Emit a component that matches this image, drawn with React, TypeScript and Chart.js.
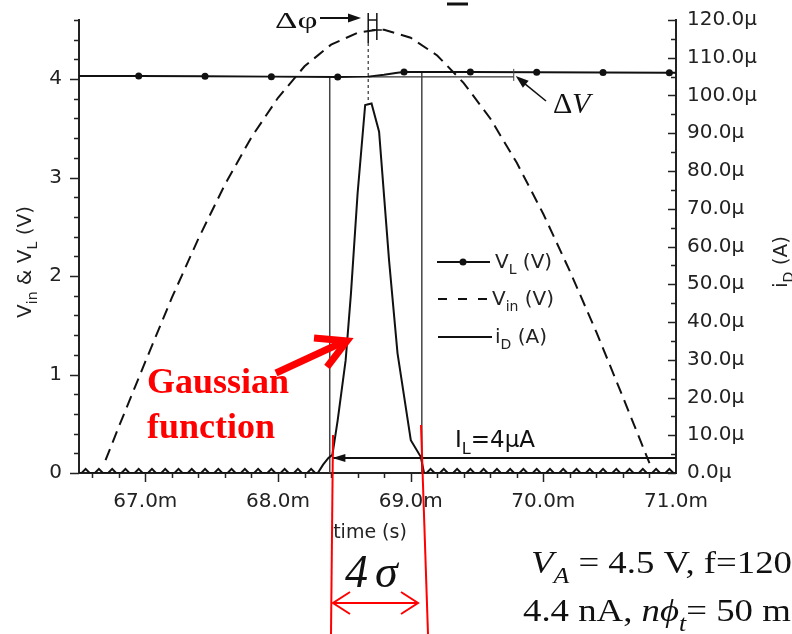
import React, { useEffect, useRef } from 'react';
import { Chart, registerables } from 'chart.js';

Chart.register(...registerables);

// ---------------- data ----------------
const X_MIN = 66.5; // ms
const X_MAX = 71.0;
const X_TICKS = [67, 68, 69, 70, 71];
const Y_TICKS = [0, 1, 2, 3, 4];
const Y_MAX = 4.6;
const Y1_TICKS = [0, 10, 20, 30, 40, 50, 60, 70, 80, 90, 100, 110, 120];
const Y1_MAX = 120;

// V_in (V) dashed curve
const VIN_T = [66.7, 66.8, 67.0, 67.2, 67.4, 67.6, 67.8, 68.0, 68.2, 68.4, 68.6, 68.745, 68.8, 69.0, 69.2, 69.4, 69.6, 69.8, 70.0, 70.2, 70.4, 70.6, 70.8];
const VIN_V = [0.13, 0.47, 1.13, 1.78, 2.38, 2.93, 3.41, 3.81, 4.13, 4.35, 4.47, 4.5, 4.5, 4.42, 4.24, 3.96, 3.6, 3.15, 2.63, 2.05, 1.43, 0.77, 0.1];

// V_L (V) line with dot markers
const VL_T = [66.5, 66.95, 67.45, 67.95, 68.45, 68.68, 68.8, 68.9, 68.95, 69.2, 69.45, 69.95, 70.45, 70.95, 71.0];
const VL_V = [4.032, 4.031, 4.028, 4.025, 4.022, 4.025, 4.045, 4.065, 4.072, 4.073, 4.072, 4.07, 4.067, 4.064, 4.064];
const VL_MARKER_T = [66.95, 67.45, 67.95, 68.45, 68.95, 69.45, 69.95, 70.45, 70.95];

// i_D (µA): the Gaussian-like pulse
const ID_PULSE_T = [68.3, 68.34, 68.38, 68.41, 68.45, 68.51, 68.55, 68.6, 68.657, 68.705, 68.762, 68.837, 68.901, 69.001, 69.076, 69.101];
const ID_PULSE_V = [0, 2.2, 4.0, 4.8, 14.0, 29.9, 47.6, 74.1, 97.5, 97.9, 90.4, 56.4, 31.7, 8.7, 4.3, 0];
// small ripple bumps along the baseline of i_D
const RIPPLE_T = [
  66.55, 66.65, 66.75, 66.85, 66.95, 67.05, 67.15, 67.25, 67.35, 67.45, 67.55, 67.65, 67.75, 67.85, 67.95, 68.05, 68.15, 68.25,
  69.15, 69.25, 69.35, 69.45, 69.55, 69.65, 69.75, 69.85, 69.95, 70.05, 70.15, 70.25, 70.35, 70.45, 70.55, 70.65, 70.75, 70.85, 70.95,
];
const RIPPLE_PEAK = 1.1; // µA
const RIPPLE_HALF_WIDTH = 0.03; // ms

// annotations
const IL_VALUE = 4; // µA
const IL_T = [68.41, 71.0];
const WINDOW_T = [68.39, 69.084];
const WINDOW_TOP_V = [4.022, 4.072];
const ID_PEAK_T = 68.68;
const ID_PEAK_V = 97.9;
const VIN_PEAK_T = 68.745;
const DV_REF_T = [68.68, 69.777];
const DV_REF_V = 4.022;

// ---------------- helpers ----------------
type Seg = [string, string?];

function rich(
  ctx: CanvasRenderingContext2D,
  segs: Seg[],
  x: number,
  y: number,
  size: number,
  family: string,
  color: string,
  align: 'left' | 'center' = 'left',
  sx = 1,
) {
  const subSize = size * 0.7;
  const subDy = size * 0.32;
  const fontFor = (k: string) =>
    `${k.includes('i') ? 'italic ' : ''}${k.includes('s') ? subSize : size}px ${family}`;
  const widths: number[] = [];
  let total = 0;
  segs.forEach(([t, k = 'n']) => {
    ctx.font = fontFor(k);
    const w = ctx.measureText(t).width;
    widths.push(w);
    total += w;
  });
  ctx.save();
  ctx.translate(x, y);
  ctx.scale(sx, 1);
  let cx = align === 'center' ? -total / 2 : 0;
  ctx.fillStyle = color;
  ctx.textAlign = 'left';
  ctx.textBaseline = 'alphabetic';
  segs.forEach(([t, k = 'n'], i) => {
    ctx.font = fontFor(k);
    ctx.fillText(t, cx, k.includes('s') ? subDy : 0);
    cx += widths[i];
  });
  ctx.restore();
}

function text(
  ctx: CanvasRenderingContext2D,
  s: string,
  x: number,
  y: number,
  font: string,
  color: string,
  sx = 1,
) {
  ctx.save();
  ctx.font = font;
  ctx.fillStyle = color;
  ctx.textAlign = 'left';
  ctx.textBaseline = 'alphabetic';
  ctx.translate(x, y);
  ctx.scale(sx, 1);
  ctx.fillText(s, 0, 0);
  ctx.restore();
}

function line(ctx: CanvasRenderingContext2D, pts: number[][], color: string, w: number, dash: number[] = []) {
  ctx.save();
  ctx.strokeStyle = color;
  ctx.lineWidth = w;
  ctx.setLineDash(dash);
  ctx.beginPath();
  pts.forEach(([px, py], i) => (i === 0 ? ctx.moveTo(px, py) : ctx.lineTo(px, py)));
  ctx.stroke();
  ctx.restore();
}

function tri(ctx: CanvasRenderingContext2D, pts: number[][], color: string) {
  ctx.save();
  ctx.fillStyle = color;
  ctx.beginPath();
  pts.forEach(([px, py], i) => (i === 0 ? ctx.moveTo(px, py) : ctx.lineTo(px, py)));
  ctx.closePath();
  ctx.fill();
  ctx.restore();
}

const SANS = '"DejaVu Sans", sans-serif';
const SERIF = '"Liberation Serif", "Times New Roman", serif';
const INK = '#111';
const AXIS = '#222';
const RED = '#ff0000';

const annotPlugin = {
  id: 'annot',
  afterDraw(chart: any) {
    const { ctx, scales } = chart;
    const x = scales.x;
    const y = scales.y;
    const y1 = scales.y1;
    const area = chart.chartArea;
    ctx.save();

    // ---- tick marks (major + minor) ----
    ctx.strokeStyle = AXIS;
    ctx.lineWidth = 1.5;
    ctx.beginPath();
    for (let k = 0; k <= 21; k++) {
      const v = 66.6 + 0.2 * k;
      const major = Math.abs(v - Math.round(v)) < 1e-6;
      const px = Math.round(x.getPixelForValue(v)) + 0.5;
      ctx.moveTo(px, area.bottom);
      ctx.lineTo(px, area.bottom + (major ? 9 : 5));
    }
    for (let k = 0; k <= 23; k++) {
      const v = 0.2 * k;
      const major = k % 5 === 0;
      const py = Math.round(y.getPixelForValue(v)) + 0.5;
      ctx.moveTo(area.left, py);
      ctx.lineTo(area.left - (major ? 9 : 5), py);
    }
    for (let k = 0; k <= 24; k++) {
      const v = 5 * k;
      const major = k % 2 === 0;
      const py = Math.round(y1.getPixelForValue(v)) + 0.5;
      ctx.moveTo(area.right, py);
      ctx.lineTo(area.right - (major ? 8 : 5), py);
    }
    ctx.stroke();

    // ---- axis titles ----
    ctx.save();
    ctx.translate(31, 262);
    ctx.rotate(-Math.PI / 2);
    rich(ctx, [['V'], ['in', 's'], [' & V'], ['L', 's'], [' (V)']], 0, 0, 20, SANS, AXIS, 'center');
    ctx.restore();
    ctx.save();
    ctx.translate(787, 262);
    ctx.rotate(-Math.PI / 2);
    rich(ctx, [['i'], ['D', 's'], [' (A)']], 0, 0, 20, SANS, AXIS, 'center');
    ctx.restore();
    rich(ctx, [['time (s)']], 370, 538, 19, SANS, AXIS, 'center');

    // ---- legend ----
    line(ctx, [[437, 262], [490, 262]], INK, 2);
    ctx.fillStyle = INK;
    ctx.beginPath();
    ctx.arc(463, 262, 3.5, 0, Math.PI * 2);
    ctx.fill();
    rich(ctx, [['V'], ['L', 's'], [' (V)']], 495, 268, 20, SANS, AXIS);
    line(ctx, [[438, 299], [489, 299]], INK, 2, [9, 11]);
    rich(ctx, [['V'], ['in', 's'], [' (V)']], 492, 305, 20, SANS, AXIS);
    line(ctx, [[438, 337], [492, 337]], INK, 2);
    rich(ctx, [['i'], ['D', 's'], [' (A)']], 495, 343, 20, SANS, AXIS);

    // ---- I_L arrow and label ----
    const ilY = y1.getPixelForValue(IL_VALUE);
    const ilX = x.getPixelForValue(IL_T[0]);
    tri(ctx, [[ilX, ilY], [ilX + 13, ilY - 4], [ilX + 13, ilY + 4]], INK);
    rich(ctx, [['I'], ['L', 's'], ['=4μA']], 455, 447, 23, SANS, INK);

    // ---- Δφ marker ----
    const xp = x.getPixelForValue(ID_PEAK_T);
    const xv = x.getPixelForValue(VIN_PEAK_T);
    line(ctx, [[xp, 13], [xp, 43]], INK, 1.5);
    line(ctx, [[xp, 43], [xp, y1.getPixelForValue(ID_PEAK_V)]], '#333', 1.2, [3, 3]);
    line(ctx, [[xv, 13], [xv, 40]], INK, 1.5);
    line(ctx, [[xp, 20], [xv, 20]], INK, 1.5);
    line(ctx, [[xv - 5, 30], [xv + 5, 30]], INK, 1.5);
    line(ctx, [[320, 18], [350, 18]], INK, 2);
    tri(ctx, [[361, 18], [348, 13.5], [348, 22.5]], INK);
    text(ctx, 'Δφ', 275, 28, `24px ${SERIF}`, INK, 1.45);

    // ---- ΔV marker ----
    const dvx = x.getPixelForValue(DV_REF_T[1]);
    const dvy = y.getPixelForValue(DV_REF_V);
    line(ctx, [[dvx, dvy - 8], [dvx, dvy + 4]], '#444', 1);
    const tip = [dvx + 2, dvy - 1];
    line(ctx, [[546, 101], [tip[0] + 8, tip[1] + 7]], INK, 1.6);
    const ang = Math.atan2(101 - tip[1], 546 - tip[0]);
    const hl = 13;
    const hw = 4.5;
    const bx = tip[0] + Math.cos(ang) * hl;
    const by = tip[1] + Math.sin(ang) * hl;
    tri(
      ctx,
      [
        tip,
        [bx - Math.sin(ang) * hw, by + Math.cos(ang) * hw],
        [bx + Math.sin(ang) * hw, by - Math.cos(ang) * hw],
      ],
      INK,
    );
    text(ctx, 'Δ', 553, 113, `30px ${SERIF}`, INK);
    text(ctx, 'V', 572, 113, `italic 30px ${SERIF}`, INK);

    // small bar at top edge
    line(ctx, [[447, 4], [468, 4]], INK, 3);

    // ---- red annotations ----
    text(ctx, 'Gaussian', 147, 393, `bold 36px ${SERIF}`, RED);
    text(ctx, 'function', 147, 438, `bold 36px ${SERIF}`, RED);
    ctx.save();
    ctx.strokeStyle = RED;
    ctx.lineWidth = 7;
    ctx.lineCap = 'butt';
    ctx.lineJoin = 'miter';
    ctx.beginPath();
    ctx.moveTo(276, 373);
    ctx.lineTo(343, 342);
    ctx.stroke();
    ctx.beginPath();
    ctx.moveTo(314, 338);
    ctx.lineTo(347, 341);
    ctx.lineTo(327, 367);
    ctx.stroke();
    ctx.restore();

    line(ctx, [[333, 435], [331, 634]], RED, 2);
    line(ctx, [[421, 425], [428, 634]], RED, 2);
    line(ctx, [[333, 603], [418, 603]], RED, 2);
    line(ctx, [[350, 592], [333, 603], [350, 614]], RED, 2);
    line(ctx, [[401, 592], [418, 603], [401, 614]], RED, 2);
    text(ctx, '4', 345, 587, `italic 46px ${SERIF}`, INK);
    text(ctx, 'σ', 375, 587, `italic 46px ${SERIF}`, INK);

    // ---- parameter text (bottom right) ----
    rich(ctx, [['V', 'i'], ['A', 'si'], [' = 4.5 V, f=120']], 531, 573, 32, SERIF, INK, 'left', 1.15);
    rich(ctx, [['4.4 nA, '], ['nϕ', 'i'], ['t', 'si'], ['= 50 m']], 523, 621, 32, SERIF, INK, 'left', 1.15);

    ctx.restore();
  },
};

export default function App() {
  const ref = useRef<HTMLCanvasElement | null>(null);

  useEffect(() => {
    const canvas = ref.current;
    if (!canvas) return;

    const vl = VL_T.map((t, i) => ({ x: t, y: VL_V[i] }));
    const vin = VIN_T.map((t, i) => ({ x: t, y: VIN_V[i] }));
    const id: { x: number; y: number }[] = [{ x: X_MIN, y: 0 }];
    RIPPLE_T.forEach((t) => {
      id.push({ x: t - RIPPLE_HALF_WIDTH, y: 0 }, { x: t, y: RIPPLE_PEAK }, { x: t + RIPPLE_HALF_WIDTH, y: 0 });
    });
    ID_PULSE_T.forEach((t, i) => id.push({ x: t, y: ID_PULSE_V[i] }));
    id.push({ x: X_MAX, y: 0 });
    id.sort((a, b) => a.x - b.x);

    const thin = { pointRadius: 0, fill: false, tension: 0 };
    const noPad = (s: any) => {
      s.paddingTop = 0;
      s.paddingBottom = 0;
      s.paddingLeft = 0;
      s.paddingRight = 0;
    };

    const chart = new Chart(canvas, {
      type: 'line',
      data: {
        datasets: [
          {
            label: 'V_L (V)',
            data: vl,
            yAxisID: 'y',
            borderColor: INK,
            borderWidth: 2,
            pointRadius: (c: any) => (VL_MARKER_T.includes(VL_T[c.dataIndex]) ? 3.5 : 0),
            pointBackgroundColor: INK,
            pointBorderWidth: 0,
            tension: 0,
          },
          { label: 'V_in (V)', data: vin, yAxisID: 'y', borderColor: INK, borderWidth: 2, borderDash: [12, 7], ...thin },
          { label: 'i_D (A)', data: id, yAxisID: 'y1', borderColor: INK, borderWidth: 2, ...thin },
          {
            label: 'window L',
            data: [{ x: WINDOW_T[0], y: 0 }, { x: WINDOW_T[0], y: WINDOW_TOP_V[0] }],
            yAxisID: 'y',
            borderColor: '#444',
            borderWidth: 1.5,
            ...thin,
          },
          {
            label: 'window R',
            data: [{ x: WINDOW_T[1], y: 0 }, { x: WINDOW_T[1], y: WINDOW_TOP_V[1] }],
            yAxisID: 'y',
            borderColor: '#444',
            borderWidth: 1.5,
            ...thin,
          },
          {
            label: 'I_L',
            data: IL_T.map((t) => ({ x: t, y: IL_VALUE })),
            yAxisID: 'y1',
            borderColor: INK,
            borderWidth: 2,
            ...thin,
          },
          {
            label: 'dV ref',
            data: DV_REF_T.map((t) => ({ x: t, y: DV_REF_V })),
            yAxisID: 'y',
            borderColor: '#333',
            borderWidth: 1.3,
            ...thin,
          },
        ],
      },
      options: {
        animation: false,
        responsive: false,
        devicePixelRatio: 1,
        events: [],
        layout: { padding: { top: 20, left: 0, right: 0, bottom: 0 } },
        plugins: { legend: { display: false }, tooltip: { enabled: false }, title: { display: false } },
        scales: {
          x: {
            type: 'linear',
            min: X_MIN,
            max: X_MAX,
            afterBuildTicks: (s: any) => {
              s.ticks = X_TICKS.map((v) => ({ value: v }));
            },
            afterFit: (s: any) => {
              s.height = 161;
              noPad(s);
            },
            grid: { display: true, drawOnChartArea: false, drawTicks: false },
            border: { display: true, color: AXIS, width: 2 },
            ticks: {
              padding: 17,
              color: AXIS,
              font: { family: SANS, size: 20 },
              maxRotation: 0,
              autoSkip: false,
              callback: (v: any) => Number(v).toFixed(1) + 'm',
            },
          },
          y: {
            type: 'linear',
            position: 'left',
            min: 0,
            max: Y_MAX,
            afterBuildTicks: (s: any) => {
              s.ticks = Y_TICKS.map((v) => ({ value: v }));
            },
            afterFit: (s: any) => {
              s.width = 79;
              noPad(s);
            },
            grid: { display: true, drawOnChartArea: false, drawTicks: false },
            border: { display: true, color: AXIS, width: 2 },
            ticks: {
              padding: 17,
              color: AXIS,
              font: { family: SANS, size: 20 },
              callback: (v: any) => String(v),
            },
          },
          y1: {
            type: 'linear',
            position: 'right',
            min: 0,
            max: Y1_MAX,
            afterBuildTicks: (s: any) => {
              s.ticks = Y1_TICKS.map((v) => ({ value: v }));
            },
            afterFit: (s: any) => {
              s.width = 116;
              noPad(s);
            },
            grid: { display: true, drawOnChartArea: false, drawTicks: false },
            border: { display: true, color: AXIS, width: 2 },
            ticks: {
              padding: 11,
              color: AXIS,
              font: { family: SANS, size: 20 },
              callback: (v: any) => Number(v).toFixed(1) + 'μ',
            },
          },
        },
      },
      plugins: [annotPlugin],
    } as any);

    return () => chart.destroy();
  }, []);

  return (
    <div style={{ position: 'absolute', left: 0, top: 0, width: 792, height: 634, background: '#fff' }}>
      <canvas ref={ref} width={792} height={634} style={{ width: 792, height: 634, display: 'block' }} />
    </div>
  );
}
